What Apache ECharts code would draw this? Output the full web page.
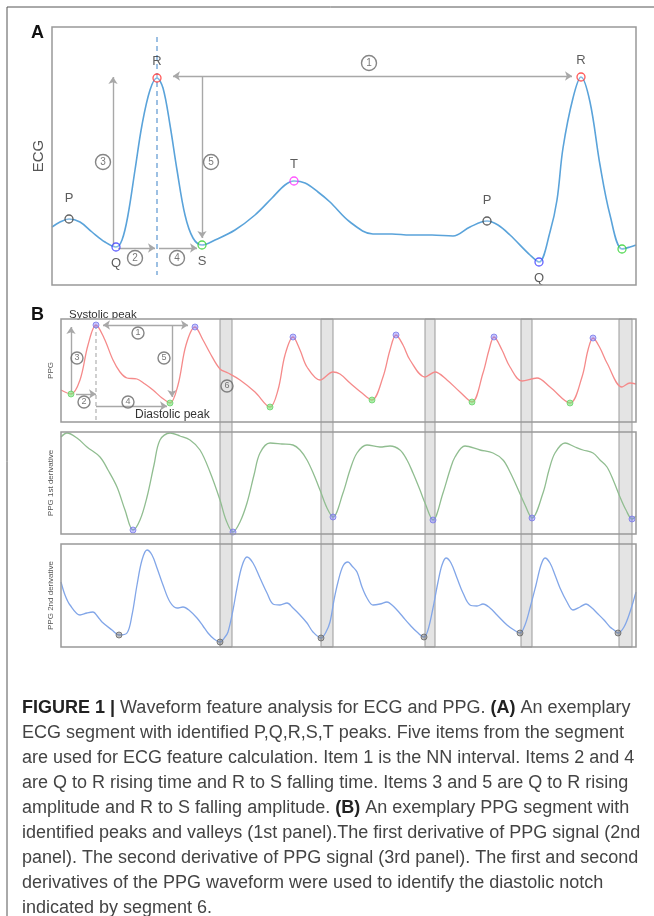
<!DOCTYPE html>
<html>
<head>
<meta charset="utf-8">
<script src="https://cdn.jsdelivr.net/npm/echarts@6/dist/echarts.min.js"></script>
<style>
  html, body { margin: 0; padding: 0; background: #fff; }
  #chart { width: 654px; height: 916px; }
</style>
</head>
<body>
<div id="chart"></div>
<script>
// ---- Panel A: ECG signal (time in samples, amplitude in a.u.)
const ecgSignal = [
  [0,13],[8,18],[17,21],[28,18],[40,8],[53,-2],[64,-7],[70,0],[76,25],[83,70],[90,115],[98,150],
  [105,162],[111,152],[118,115],[125,70],[133,25],[141,2],[150,-5],[163,0],[183,10],[203,25],
  [220,42],[233,55],[242,59],[253,57],[266,48],[278,38],[298,18],[321,6],[340,6],[358,5],[380,5],
  [401,4],[418,13],[435,19],[446,15],[458,5],[478,-15],[487,-22],[498,8],[505,40],[511,92],
  [521,142],[529,163],[538,138],[548,75],[558,25],[570,-9],[578,-7],[584,-5]
];
const ecgPeakNames = ['P','Q','R','S','T','P','Q','R','S'];
const ecgPeakT = [17, 64, 105, 150, 242, 435, 487, 529, 570];
const ecgPeakV = [21, -7, 162, -5, 59, 19, -22, 163, -9];
const ecgPeakShown = [true, true, true, true, true, true, true, true, false];
// arrows: [t1, v1, t2, v2, arrow at both ends]
const ecgArrows = [
  [121,164, 520,164, true],
  [150,164, 150,2, false],
  [61,-7, 61,163, false],
  [66,-8, 103,-8, false],
  [107,-8, 145,-8, false]
];
const ecgItemLabels = ['1','3','5','2','4'];
const ecgItemT = [317, 51, 159, 83, 125];
const ecgItemV = [177, 78, 78, -18, -18];
const ecgRLine = [[105,203],[105,-35]];

// ---- Panel B: PPG and derivatives (time in samples)
const ppgSignal = [
  [0,32],[10,28],[19,42],[27,77],[35,97],[43,84],[52,62],[59,50],[66,44],[76,43],[84,38],[92,32],
  [101,24],[109,19],[117,37],[125,77],[134,95],[142,82],[149,69],[159,53],[167,49],[179,42],
  [194,30],[209,15],[217,32],[224,67],[232,85],[239,72],[246,55],[259,42],[272,50],[279,48],
  [289,39],[301,29],[311,22],[322,45],[329,72],[335,87],[342,77],[349,62],[364,45],[374,50],
  [386,42],[399,30],[411,20],[422,49],[428,72],[433,85],[441,72],[449,55],[461,41],[476,44],
  [489,35],[509,19],[521,45],[527,72],[532,84],[539,74],[546,59],[561,35],[569,39],[575,38]
];
const ppgPeakT = [35, 134, 232, 335, 433, 532];
const ppgPeakV = [97, 95, 85, 87, 85, 84];
const ppgValleyT = [10, 109, 209, 311, 411, 509];
const ppgValleyV = [28, 19, 15, 22, 20, 19];
const ppgArrows = [
  [10,30, 10,95, false],
  [15,28, 35,28, false],
  [35,16, 106,16, false],
  [42,97, 127,97, true],
  [111,97, 111,25, false]
];
const ppgItemLabels = ['3','2','4','1','5','6'];
const ppgItemT = [16, 23, 67, 77, 103, 166];
const ppgItemV = [64, 20, 20, 89, 64, 36];
const ppgPeakLine = [[35,97],[35,0]];

const d1Signal = [
  [0,97],[6,101],[16,96],[26,87],[39,77],[47,64],[56,47],[64,24],[72,4],[79,14],[86,37],[93,69],
  [99,94],[109,101],[119,98],[129,94],[139,84],[149,62],[159,34],[165,14],[172,2],[179,12],
  [186,31],[193,59],[199,81],[209,91],[221,90],[232,89],[239,84],[246,74],[253,59],[259,44],
  [266,26],[272,17],[282,41],[289,64],[296,81],[306,89],[319,87],[329,88],[339,84],[346,74],
  [352,61],[359,44],[364,31],[372,14],[382,41],[389,64],[394,77],[404,88],[419,84],[432,81],
  [442,74],[449,62],[456,47],[464,29],[471,16],[482,41],[488,64],[494,81],[504,91],[514,87],
  [522,84],[532,81],[539,74],[546,67],[553,52],[559,37],[565,24],[571,15],[575,18]
];
const d1MinT = [72, 172, 272, 372, 471, 571];
const d1MinV = [4, 2, 17, 14, 16, 15];

const d2Signal = [
  [0,65],[4,52],[9,42],[19,32],[26,34],[32,35],[37,30],[41,25],[51,17],[58,12],[66,14],[71,32],
  [76,62],[81,87],[86,97],[91,92],[96,79],[102,62],[109,45],[116,39],[122,40],[129,36],[136,29],
  [142,21],[147,14],[153,8],[159,5],[164,10],[167,15],[172,37],[176,59],[181,81],[186,90],
  [192,84],[199,69],[206,54],[212,43],[219,42],[226,44],[232,39],[239,32],[246,24],[252,15],
  [260,9],[265,15],[269,25],[273,47],[277,65],[282,81],[287,85],[291,81],[296,75],[301,60],
  [306,49],[312,42],[319,43],[326,45],[331,42],[336,37],[342,30],[349,22],[356,15],[363,10],
  [367,17],[372,39],[377,65],[381,82],[385,89],[390,84],[396,69],[402,54],[409,42],[416,41],
  [422,43],[429,39],[436,32],[446,22],[453,17],[459,14],[464,22],[469,39],[475,62],[480,82],
  [484,89],[489,84],[494,72],[499,59],[506,45],[512,37],[519,40],[525,43],[531,39],[536,34],
  [543,27],[549,20],[553,17],[557,14],[563,20],[569,35],[575,55]
];
const d2MinT = [58, 159, 260, 363, 459, 557];
const d2MinV = [12, 5, 9, 10, 14, 14];

// diastolic notch windows (segment 6)
const notchBands = [[159,171],[260,272],[364,374],[460,471],[558,571]];

const caption = [
  '{b|FIGURE 1 |} Waveform feature analysis for ECG and PPG. {b|(A)} An exemplary',
  'ECG segment with identified P,Q,R,S,T peaks. Five items from the segment',
  'are used for ECG feature calculation. Item 1 is the NN interval. Items 2 and 4',
  'are Q to R rising time and R to S falling time. Items 3 and 5 are Q to R rising',
  'amplitude and R to S falling amplitude. {b|(B)} An exemplary PPG segment with',
  'identified peaks and valleys (1st panel).The first derivative of PPG signal (2nd',
  'panel). The second derivative of PPG signal (3rd panel). The first and second',
  'derivatives of the PPG waveform were used to identify the diastolic notch',
  'indicated by segment 6.'
];

const peakColors = { P: '#3a3a3a', Q: '#3b3bff', R: '#ff3030', S: '#2ed12e', T: '#ff2bff' };
const FONT = 'Liberation Sans, Arial, sans-serif';

const chart = echarts.init(document.getElementById('chart'), null, { renderer: 'canvas' });

function hiddenX(idx, max) {
  return { type: 'value', gridIndex: idx, min: 0, max: max, show: false };
}
function yAx(idx, min, max, name, size, gap) {
  return {
    type: 'value', gridIndex: idx, min: min, max: max,
    name: name, nameLocation: 'middle', nameRotate: 90, nameGap: gap,
    nameTextStyle: { color: '#555', fontSize: size, fontFamily: FONT },
    axisLine: { show: false }, axisTick: { show: false },
    axisLabel: { show: false }, splitLine: { show: false }
  };
}
function arrowLines(arrows, xi, yi) {
  return {
    type: 'line', xAxisIndex: xi, yAxisIndex: yi, data: [], z: 4,
    markLine: {
      silent: true, animation: false, symbolSize: 7,
      label: { show: false },
      lineStyle: { color: '#a8a8a8', width: 1.4, type: 'solid' },
      data: arrows.map(a => [
        { coord: [a[0], a[1]], symbol: a[4] ? 'arrow' : 'none' },
        { coord: [a[2], a[3]], symbol: 'arrow' }
      ])
    }
  };
}
function circledItems(labels, ts, vs, xi, yi, size, fs) {
  return {
    type: 'scatter', xAxisIndex: xi, yAxisIndex: yi, z: 6,
    symbol: 'circle', symbolSize: size, silent: true,
    itemStyle: { color: 'rgba(255,255,255,0)', borderColor: '#666', borderWidth: 1.4 },
    label: { show: true, position: 'inside', formatter: p => p.value[2],
      color: '#555', fontSize: fs, fontFamily: FONT },
    data: labels.map((l, i) => [ts[i], vs[i], l])
  };
}
function markers(ts, vs, xi, yi, fill, border, size) {
  return {
    type: 'scatter', xAxisIndex: xi, yAxisIndex: yi, z: 7, silent: true,
    symbol: 'circle', symbolSize: size,
    itemStyle: { color: fill, borderColor: border, borderWidth: 1 },
    data: ts.map((t, i) => [t, vs[i]])
  };
}
function signal(data, xi, yi, color, width) {
  return {
    type: 'line', xAxisIndex: xi, yAxisIndex: yi, data: data, z: 5,
    smooth: 0.35, symbol: 'none', silent: true,
    lineStyle: { color: color, width: width }
  };
}

const gridStyle = { show: true, borderColor: '#999', borderWidth: 1.5, backgroundColor: 'rgba(0,0,0,0)', z: 8 };

const ecgPeakData = ecgPeakNames.map((n, i) => ({
  value: [ecgPeakT[i], ecgPeakV[i]],
  itemStyle: { borderColor: peakColors[n] },
  label: {
    show: ecgPeakShown[i], formatter: n,
    position: (n === 'Q' || n === 'S') ? 'bottom' : 'top',
    distance: n === 'P' ? 9 : 5
  }
}));

const graphics = [
  { type: 'line', shape: { x1: 7, y1: 7, x2: 654, y2: 7 }, style: { stroke: '#555', lineWidth: 1 } },
  { type: 'line', shape: { x1: 7, y1: 7, x2: 7, y2: 916 }, style: { stroke: '#555', lineWidth: 1 } },
  { type: 'text', left: 31, top: 24, style: { text: 'A', fontSize: 18, fontWeight: 'bold', fill: '#111', fontFamily: FONT } },
  { type: 'text', left: 31, top: 306, style: { text: 'B', fontSize: 18, fontWeight: 'bold', fill: '#111', fontFamily: FONT } },
  { type: 'text', left: 69, top: 309, style: { text: 'Systolic peak', fontSize: 11.5, fill: '#333', fontFamily: FONT } },
  { type: 'text', left: 135, top: 409, style: { text: 'Diastolic peak', fontSize: 12, fill: '#333', fontFamily: FONT } }
];
caption.forEach((line, i) => {
  graphics.push({
    type: 'text', left: 22, top: 699 + i * 25,
    style: {
      text: line, fontSize: 18, fill: '#444', fontFamily: FONT,
      rich: { b: { fontWeight: 'bold', fontSize: 18, fill: '#222', fontFamily: FONT } }
    }
  });
});

const option = {
  animation: false,
  backgroundColor: '#fff',
  grid: [
    Object.assign({ left: 52, top: 27, width: 584, height: 258 }, gridStyle),
    { left: 61, top: 319, width: 575, height: 328, show: false },
    Object.assign({ left: 61, top: 319, width: 575, height: 103 }, gridStyle),
    Object.assign({ left: 61, top: 432, width: 575, height: 102 }, gridStyle),
    Object.assign({ left: 61, top: 544, width: 575, height: 103 }, gridStyle)
  ],
  xAxis: [hiddenX(0, 584), hiddenX(1, 575), hiddenX(2, 575), hiddenX(3, 575), hiddenX(4, 575)],
  yAxis: [
    yAx(0, -45, 213, 'ECG', 15, 6),
    { type: 'value', gridIndex: 1, min: 0, max: 1, show: false },
    yAx(2, 0, 103, 'PPG', 8, 6),
    yAx(3, 0, 102, 'PPG 1st derivative', 8, 6),
    yAx(4, 0, 103, 'PPG 2nd derivative', 8, 6)
  ],
  series: [
    // notch bands across the three PPG panels
    {
      type: 'line', xAxisIndex: 1, yAxisIndex: 1, data: [], z: 1,
      markArea: {
        silent: true, animation: false,
        itemStyle: { color: '#e4e4e4', borderColor: '#9a9a9a', borderWidth: 1 },
        data: notchBands.map(b => [{ xAxis: b[0] }, { xAxis: b[1] }])
      }
    },
    // ECG
    signal(ecgSignal, 0, 0, '#5aa3da', 1.6),
    {
      type: 'line', xAxisIndex: 0, yAxisIndex: 0, data: ecgRLine, z: 3, symbol: 'none', silent: true,
      lineStyle: { color: '#5b96d0', width: 1.2, type: [5, 4] }
    },
    arrowLines(ecgArrows, 0, 0),
    circledItems(ecgItemLabels, ecgItemT, ecgItemV, 0, 0, 15, 10),
    {
      type: 'scatter', xAxisIndex: 0, yAxisIndex: 0, z: 7, silent: true,
      symbol: 'circle', symbolSize: 8,
      itemStyle: { color: 'rgba(255,255,255,0.3)', borderWidth: 1.3 },
      label: { color: '#333', fontSize: 13, fontFamily: FONT },
      data: ecgPeakData
    },
    // PPG
    signal(ppgSignal, 2, 2, '#f58a8a', 1.3),
    {
      type: 'line', xAxisIndex: 2, yAxisIndex: 2, data: ppgPeakLine, z: 3, symbol: 'none', silent: true,
      lineStyle: { color: '#b0b0b0', width: 1.2, type: [4, 3] }
    },
    arrowLines(ppgArrows, 2, 2),
    circledItems(ppgItemLabels, ppgItemT, ppgItemV, 2, 2, 12, 9),
    markers(ppgPeakT, ppgPeakV, 2, 2, 'rgba(120,120,255,0.55)', '#7a7ae8', 6),
    markers(ppgValleyT, ppgValleyV, 2, 2, 'rgba(120,230,120,0.8)', '#6ccf6c', 6),
    // derivatives
    signal(d1Signal, 3, 3, '#90bd90', 1.3),
    markers(d1MinT, d1MinV, 3, 3, 'rgba(120,120,255,0.55)', '#7a7ae8', 6),
    signal(d2Signal, 4, 4, '#82a6e8', 1.3),
    markers(d2MinT, d2MinV, 4, 4, 'rgba(120,120,120,0.6)', '#666', 6)
  ],
  graphic: graphics
};

chart.setOption(option);
</script>
</body>
</html>
